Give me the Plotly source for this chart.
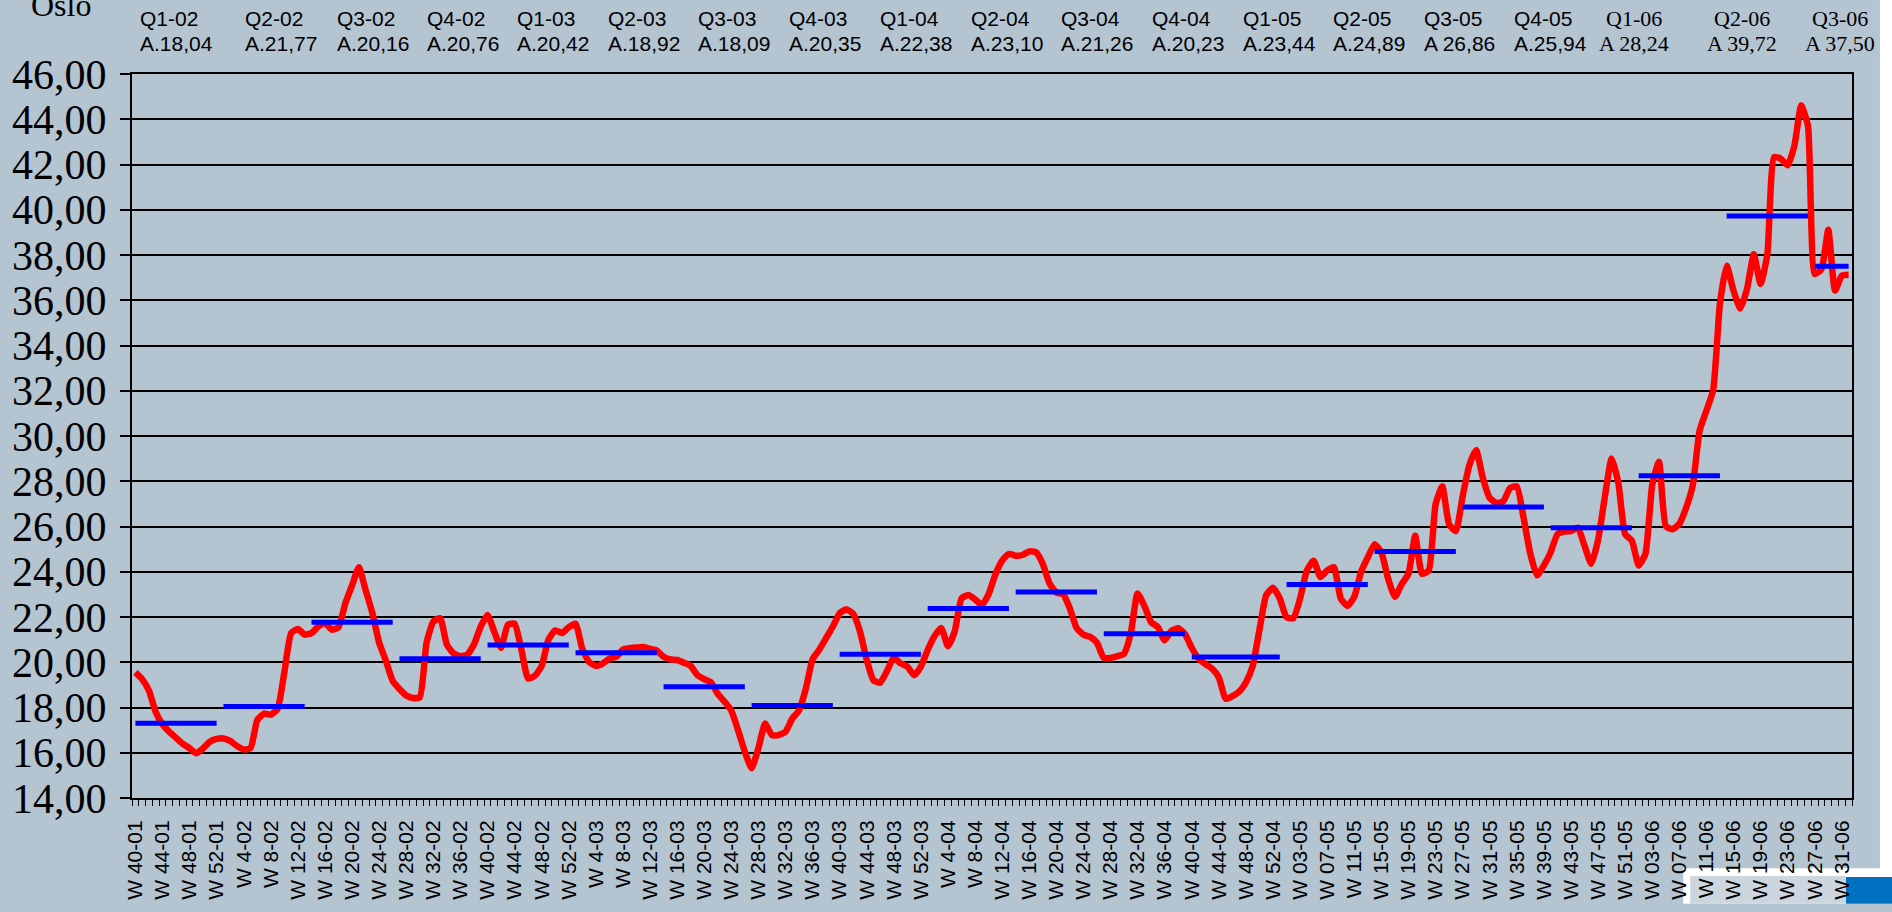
import plotly.graph_objects as go

# ---------------- DATA ----------------
# weekly prices (W40-01 ... W33-06)
price_2001 = [19.55, 19.25, 18.75, 17.80, 17.26, 16.93, 16.66, 16.39, 16.20, 15.98, 16.20, 16.49, 16.61]
price_2002 = [16.63, 16.52, 16.30, 16.15, 16.20, 17.44, 17.73, 17.68, 17.94, 19.55, 21.29, 21.47, 21.22,
              21.29, 21.58, 21.73, 21.44, 21.55, 22.60, 23.40, 24.20, 23.19, 22.17, 20.86, 20.06, 19.18,
              18.82, 18.53, 18.42, 18.45, 20.86, 21.80, 21.95, 20.78, 20.39, 20.27, 20.33, 20.78, 21.58,
              22.09, 21.35, 20.64, 21.66, 21.70, 20.56, 19.28, 19.40, 19.84, 21.00, 21.41, 21.29, 21.55]
price_2003 = [21.70, 20.59, 20.01, 19.84, 19.94, 20.16, 20.24, 20.56, 20.62, 20.65, 20.67, 20.59, 20.52,
              20.24, 20.13, 20.10, 19.98, 19.84, 19.43, 19.25, 19.11, 18.60, 18.26, 17.87, 17.00, 16.05,
              15.32, 16.20, 17.29, 16.78, 16.78, 16.93, 17.51, 17.87, 18.82, 20.13, 20.56, 21.07, 21.58,
              22.17, 22.34, 22.14, 21.37, 20.10, 19.20, 19.10, 19.62, 20.20, 19.95, 19.81, 19.43, 19.81]
price_2004 = [20.54, 21.15, 21.51, 20.71, 21.37, 22.82, 22.97, 22.78, 22.53, 23.01, 23.88, 24.49, 24.79,
              24.71, 24.74, 24.90, 24.86, 24.35, 23.48, 23.08, 23.01, 22.38, 21.51, 21.22, 21.12, 20.86,
              20.20, 20.19, 20.27, 20.38, 21.29, 23.04, 22.49, 21.77, 21.55, 20.97, 21.39, 21.50, 21.25,
              20.64, 20.16, 19.92, 19.72, 19.33, 18.38, 18.50, 18.70, 19.11, 19.84, 21.44, 22.97, 23.29, 22.82]
price_2005 = [21.99, 21.95, 22.82, 24.06, 24.49, 23.77, 24.06, 24.20, 22.82, 22.49, 22.89, 23.99, 24.64,
              25.22, 24.86, 23.69, 22.89, 23.45, 23.91, 25.59, 23.91, 24.06, 26.97, 27.77, 26.10, 25.80,
              27.33, 28.72, 29.37, 28.13, 27.26, 27.04, 27.11, 27.70, 27.77, 26.39, 24.79, 23.84, 24.28,
              24.86, 25.66, 25.78, 25.80, 25.95, 25.15, 24.35, 25.40, 27.30, 29.01, 27.92, 25.66, 25.37]
price_2006 = [24.28, 24.79, 27.84, 28.86, 26.02, 25.88, 26.12, 26.82, 27.84, 30.24, 31.12, 32.03, 35.85,
              37.52, 36.43, 35.63, 36.50, 38.03, 36.72, 38.03, 42.33, 42.25, 41.96, 42.84, 44.61, 43.71,
              37.16, 37.38, 39.12, 36.43, 37.09, 37.13]

tick_labels = (["W 40-01", "W 44-01", "W 48-01", "W 52-01"]
               + ["W %d-02" % w for w in range(4, 53, 4)]
               + ["W %d-03" % w for w in range(4, 53, 4)]
               + ["W %d-04" % w for w in range(4, 53, 4)]
               + ["W %02d-05" % w for w in range(3, 52, 4)]
               + ["W 03-06", "W 07-06", "W 11-06", "W 15-06", "W 19-06", "W 23-06", "W 27-06", "W 31-06"])

quarter_names = ["Q4-01", "Q1-02", "Q2-02", "Q3-02", "Q4-02", "Q1-03", "Q2-03", "Q3-03", "Q4-03",
                 "Q1-04", "Q2-04", "Q3-04", "Q4-04", "Q1-05", "Q2-05", "Q3-05", "Q4-05",
                 "Q1-06", "Q2-06", "Q3-06"]
quarter_avgs = [17.30, 18.04, 21.77, 20.16, 20.76, 20.42, 18.92, 18.09, 20.35,
                22.38, 23.10, 21.26, 20.23, 23.44, 24.89, 26.86, 25.94,
                28.24, 39.72, 37.50]
quarter_weeks = [13, 13, 13, 13, 13, 13, 13, 13, 13, 13, 13, 13, 14, 13, 13, 13, 13, 13, 13, 6]

top_q = quarter_names[1:]
top_a = ["A.18,04", "A.21,77", "A.20,16", "A.20,76", "A.20,42", "A.18,92", "A.18,09", "A.20,35",
         "A.22,38", "A.23,10", "A.21,26", "A.20,23", "A.23,44", "A.24,89", "A 26,86", "A.25,94",
         "A 28,24", "A 39,72", "A 37,50"]

# ---------------- LAYOUT CONSTANTS ----------------
W, H = 1892, 912
PL, PR, PT, PB = 130, 1852, 74, 807
BG = "#B4C4D1"
SANS = "Liberation Sans, Arial, sans-serif"
SERIF = "Liberation Serif, Times New Roman, serif"

def px_x(px):
    return (px - PL) / (PR - PL)

def px_y(py):
    return (PB - py) / (PB - PT)

prices = price_2001 + price_2002 + price_2003 + price_2004 + price_2005 + price_2006
x_idx = list(range(len(prices)))
n_cat = 254

fig = go.Figure()

# quarterly averages (blue)
bx, by = [], []
start = 0
for avg, nw in zip(quarter_avgs, quarter_weeks):
    end = start + nw - 1
    bx += [start, end, None]
    by += [avg, avg, None]
    start = end + 1

fig.add_trace(go.Scatter(x=x_idx, y=prices, mode="lines",
                         line=dict(color="#FF0000", width=6.5, shape="spline", smoothing=0.5),
                         hoverinfo="y", showlegend=False))
fig.add_trace(go.Scatter(x=bx, y=by, mode="lines",
                         line=dict(color="#0000FF", width=5),
                         hoverinfo="y", showlegend=False))

# ---------------- annotations ----------------
ann = []
top_left_px = [136, 241, 333, 423, 513, 605, 695, 786, 877, 968, 1058, 1149, 1240, 1330, 1421, 1512]
for i, (q, a) in enumerate(zip(top_q, top_a)):
    if i < len(top_left_px):
        xp = px_x(top_left_px[i])
        for txt, yy in ((q, 18), (a, 43)):
            ann.append(dict(x=xp, y=px_y(yy), xref="paper", yref="paper", text=txt,
                            showarrow=False, xanchor="left", yanchor="middle",
                            font=dict(family=SANS, size=21, color="black")))
serif_centers = [1634, 1742, 1840]
for j, i in enumerate(range(len(top_left_px), len(top_q))):
    xp = px_x(serif_centers[j])
    for txt, yy in ((top_q[i], 18), (top_a[i], 43)):
        ann.append(dict(x=xp, y=px_y(yy), xref="paper", yref="paper", text=txt,
                        showarrow=False, xanchor="center", yanchor="middle",
                        font=dict(family=SERIF, size=22, color="black")))
ann.append(dict(x=px_x(59), y=px_y(4), xref="paper", yref="paper", text="Oslo",
                showarrow=False, xanchor="center", yanchor="middle",
                font=dict(family=SERIF, size=32, color="black")))

# ---------------- shapes (page decoration) ----------------
shapes = [
    dict(type="rect", xref="paper", yref="paper", x0=px_x(1880), x1=px_x(1893), y0=px_y(-2), y1=px_y(914),
         fillcolor="white", line=dict(width=0), layer="below"),
    dict(type="rect", xref="paper", yref="paper", x0=px_x(1683), x1=px_x(1893), y0=px_y(878), y1=px_y(914),
         fillcolor="white", line=dict(width=0), layer="below"),
    dict(type="rect", xref="paper", yref="paper", x0=px_x(1690), x1=px_x(1846), y0=px_y(886), y1=px_y(914),
         fillcolor="#CDD5DF", line=dict(width=0), layer="below"),
    dict(type="rect", xref="paper", yref="paper", x0=px_x(1846), x1=px_x(1893), y0=px_y(887), y1=px_y(914),
         fillcolor="#0070C0", line=dict(width=0), layer="below"),
]

fig.update_layout(
    width=W, height=H,
    margin=dict(l=PL, r=W - PR, t=PT, b=H - PB, pad=0),
    paper_bgcolor=BG, plot_bgcolor=BG,
    separators=",.",
    showlegend=False,
    annotations=ann,
    shapes=shapes,
    xaxis=dict(
        range=[-0.5, n_cat - 0.5],
        tickmode="array",
        tickvals=[4 * k for k in range(len(tick_labels))],
        ticktext=tick_labels,
        tickangle=-90,
        ticks="outside", ticklen=6, tickcolor="rgba(0,0,0,0)",
        tickfont=dict(family=SANS, size=21, color="black"),
        ticklabelstandoff=6,
        showgrid=False, zeroline=False,
        showline=True, linecolor="black", linewidth=2, mirror=True,
        minor=dict(tickmode="array", tickvals=[k - 0.5 for k in range(n_cat + 1)],
                   ticks="outside", ticklen=6, tickcolor="black", tickwidth=1, showgrid=False),
    ),
    yaxis=dict(
        range=[14, 46], tickmode="linear", tick0=14, dtick=2,
        tickformat=".2f",
        ticks="outside", ticklen=10, tickwidth=2, tickcolor="black",
        tickfont=dict(family=SERIF, size=42, color="black"),
        ticklabelstandoff=5,
        showgrid=True, gridcolor="black", gridwidth=2,
        zeroline=False,
        showline=True, linecolor="black", linewidth=2, mirror=True,
    ),
)

fig.write_html("out.html", config={"displayModeBar": False},
               post_script="document.body.style.margin='0';document.body.style.overflow='hidden';")
